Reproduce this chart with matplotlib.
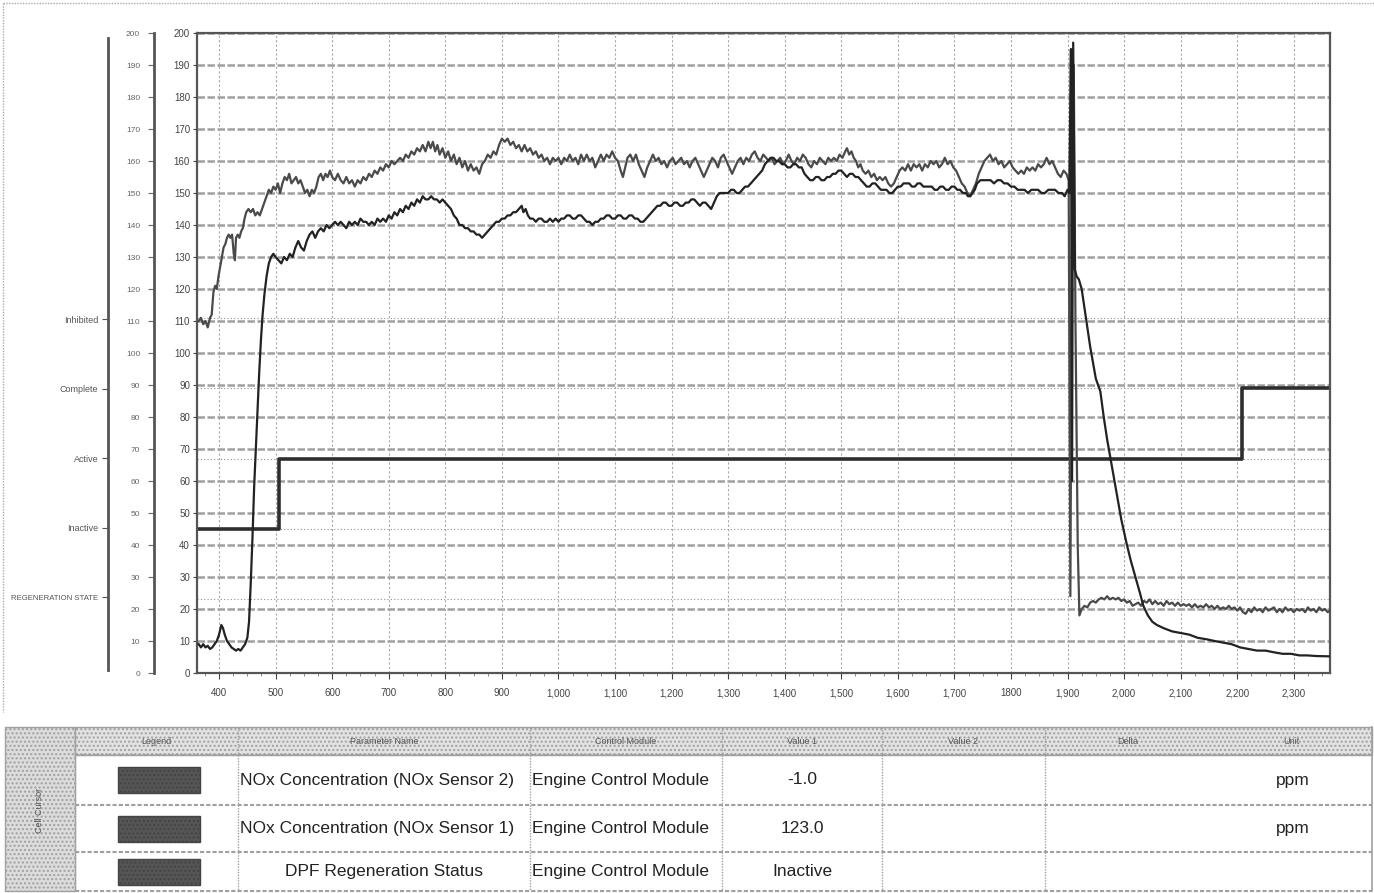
import matplotlib.pyplot as plt
from matplotlib.patches import Rectangle
from matplotlib.ticker import MultipleLocator

plt.rcParams['font.family'] = ['Liberation Sans', 'DejaVu Sans']

# NOx Sensor 2 (upper noisy trace), (time, ppm)
sensor2 = [
    (364, 110), (368, 111), (372, 109), (376, 110), (380, 108), (384, 111), (387, 112), (390, 119),
    (393, 121), (396, 120), (399, 124), (402, 127), (405, 130), (408, 133), (411, 134), (414, 136),
    (417, 137), (420, 136), (423, 137), (426, 131), (428, 129), (430, 136), (433, 137), (436, 136),
    (439, 138), (442, 139), (445, 142), (448, 144), (452, 145), (456, 144), (460, 145), (464, 143),
    (468, 144), (472, 143), (476, 145), (480, 147), (484, 149), (488, 151), (492, 150), (496, 152),
    (500, 151), (504, 153), (508, 150), (512, 153), (516, 155), (520, 154), (524, 156), (528, 153),
    (532, 154), (536, 155), (540, 153), (544, 154), (548, 152), (552, 150), (556, 151), (560, 149),
    (564, 151), (568, 150), (572, 152), (576, 155), (580, 156), (584, 154), (588, 156), (592, 155),
    (596, 157), (600, 155), (605, 154), (610, 156), (615, 154), (620, 153), (625, 155), (630, 153),
    (635, 154), (640, 152), (645, 154), (650, 153), (655, 155), (660, 154), (665, 156), (670, 155),
    (675, 157), (680, 156), (685, 158), (690, 157), (695, 159), (700, 158), (705, 160), (710, 159),
    (715, 160), (720, 161), (725, 160), (730, 162), (735, 161), (740, 163), (745, 162), (750, 164),
    (755, 163), (760, 165), (765, 163), (770, 166), (774, 164), (778, 166), (782, 163), (786, 165),
    (790, 162), (795, 164), (800, 161), (805, 163), (810, 160), (815, 162), (820, 159), (825, 161),
    (830, 158), (835, 160), (840, 157), (845, 159), (850, 157), (855, 158), (860, 156), (865, 159),
    (870, 160), (875, 162), (880, 161), (885, 163), (890, 162), (895, 165), (900, 167), (905, 166),
    (910, 167), (915, 165), (920, 166), (925, 164), (930, 165), (935, 163), (940, 165), (945, 163),
    (950, 164), (955, 162), (960, 163), (965, 161), (970, 162), (975, 160), (980, 161), (985, 159),
    (990, 161), (995, 160), (1000, 161), (1005, 159), (1010, 161), (1015, 160), (1020, 162), (1025, 160),
    (1030, 161), (1035, 159), (1040, 162), (1045, 160), (1050, 162), (1055, 160), (1060, 161), (1065, 158),
    (1070, 160), (1075, 162), (1080, 160), (1085, 162), (1090, 161), (1095, 163), (1100, 161), (1105, 160),
    (1110, 157), (1114, 155), (1118, 158), (1122, 161), (1127, 162), (1132, 160), (1137, 162), (1142, 159),
    (1147, 157), (1152, 155), (1157, 158), (1162, 160), (1167, 162), (1172, 160), (1177, 161), (1182, 159),
    (1187, 160), (1192, 158), (1197, 160), (1202, 161), (1207, 159), (1212, 160), (1217, 161), (1222, 159),
    (1227, 160), (1232, 158), (1237, 160), (1242, 161), (1247, 159), (1252, 157), (1257, 155), (1262, 157),
    (1267, 159), (1272, 161), (1277, 160), (1282, 158), (1287, 161), (1292, 162), (1297, 160), (1302, 158),
    (1307, 156), (1312, 158), (1317, 160), (1322, 161), (1327, 159), (1332, 161), (1337, 160), (1342, 162),
    (1347, 163), (1352, 161), (1357, 160), (1362, 162), (1367, 161), (1372, 160), (1377, 161), (1382, 159),
    (1387, 160), (1392, 161), (1397, 159), (1402, 160), (1407, 162), (1412, 160), (1417, 159), (1422, 161),
    (1427, 160), (1432, 162), (1437, 161), (1442, 159), (1447, 158), (1452, 160), (1457, 159), (1462, 161),
    (1467, 160), (1472, 159), (1477, 161), (1482, 160), (1487, 161), (1492, 160), (1497, 162), (1502, 161),
    (1507, 163), (1510, 164), (1514, 162), (1518, 163), (1522, 161), (1526, 160), (1530, 158), (1534, 159),
    (1538, 157), (1543, 156), (1548, 157), (1553, 155), (1558, 156), (1563, 154), (1568, 155), (1573, 154),
    (1578, 155), (1583, 153), (1588, 152), (1593, 153), (1598, 155), (1603, 157), (1608, 158), (1613, 157),
    (1618, 159), (1623, 157), (1628, 159), (1633, 158), (1638, 159), (1643, 157), (1648, 159), (1653, 158),
    (1658, 160), (1663, 159), (1668, 160), (1673, 158), (1678, 159), (1683, 161), (1688, 159), (1693, 160),
    (1698, 158), (1703, 157), (1708, 155), (1713, 153), (1718, 152), (1723, 150), (1728, 149), (1733, 151),
    (1738, 153), (1743, 156), (1748, 158), (1753, 160), (1758, 161), (1763, 162), (1768, 160), (1773, 161),
    (1778, 159), (1783, 160), (1788, 158), (1793, 159), (1798, 160), (1803, 158), (1808, 157), (1813, 156),
    (1818, 157), (1823, 156), (1828, 158), (1833, 157), (1838, 158), (1843, 157), (1848, 159), (1853, 158),
    (1858, 159), (1863, 161), (1868, 159), (1873, 160), (1878, 158), (1883, 156), (1888, 155), (1893, 157),
    (1898, 156), (1902, 154), (1905, 24), (1908, 150), (1911, 190), (1914, 110), (1918, 40), (1921, 18),
    (1925, 20), (1930, 21), (1935, 20.5), (1940, 22), (1945, 22.5), (1950, 22), (1955, 23), (1960, 23.5),
    (1965, 23), (1970, 24), (1975, 23), (1980, 23.5), (1985, 23), (1990, 23.5), (1995, 22.5), (2000, 23),
    (2005, 22), (2010, 22.5), (2015, 21), (2020, 21.5), (2025, 22), (2030, 21), (2035, 22.5), (2040, 22),
    (2045, 23), (2050, 21.5), (2055, 22.5), (2060, 21.5), (2065, 22), (2070, 21), (2075, 22.5), (2080, 21.5),
    (2085, 22), (2090, 21), (2095, 22), (2100, 21), (2105, 21.5), (2110, 21), (2115, 21.5), (2120, 20.5),
    (2125, 21.5), (2130, 20.5), (2135, 21), (2140, 20.5), (2145, 21.5), (2150, 20.5), (2155, 21), (2160, 20),
    (2165, 21), (2170, 20), (2175, 20.5), (2180, 20), (2185, 21), (2190, 20), (2195, 20.5), (2200, 19.5),
    (2205, 20.5), (2210, 19), (2215, 18.5), (2220, 20), (2225, 19), (2230, 20.5), (2235, 19.5), (2240, 20),
    (2245, 19), (2250, 20.5), (2255, 19.5), (2260, 20), (2265, 20.5), (2270, 19), (2275, 20), (2280, 19),
    (2285, 20.5), (2290, 19.5), (2295, 20), (2300, 19), (2305, 20), (2310, 19.5), (2315, 20), (2320, 19),
    (2325, 20.5), (2330, 19.5), (2335, 20), (2340, 19), (2345, 20.5), (2350, 19.5), (2355, 20), (2360, 19),
    (2364, 19.5),
]

# NOx Sensor 1 (lower trace), (time, ppm)
sensor1 = [
    (364, 9), (368, 8), (372, 9), (376, 8), (380, 8.5), (384, 7.5), (388, 8), (392, 9), (396, 10),
    (400, 12), (404, 15), (407, 14), (410, 12), (414, 10), (418, 9), (422, 8), (426, 7.5), (430, 7),
    (434, 7.5), (438, 7), (442, 8), (446, 9), (450, 11), (453, 16), (456, 28), (459, 42), (462, 58),
    (465, 70), (468, 82), (471, 94), (474, 104), (477, 112), (480, 118), (484, 124), (488, 128),
    (492, 130), (496, 131), (500, 130), (505, 129), (510, 128), (515, 130), (520, 129), (525, 131),
    (530, 130), (535, 133), (540, 135), (545, 133), (550, 132), (555, 135), (560, 137), (565, 138),
    (570, 136), (575, 138), (580, 139), (585, 138), (590, 140), (595, 139), (600, 140), (605, 141),
    (610, 140), (615, 141), (620, 140), (625, 139), (630, 141), (635, 140), (640, 141), (645, 140),
    (650, 142), (655, 141), (660, 141), (665, 140), (670, 141), (675, 140), (680, 142), (685, 141),
    (690, 142), (695, 141), (700, 143), (705, 142), (710, 144), (715, 143), (720, 145), (725, 144),
    (730, 146), (735, 145), (740, 147), (745, 146), (750, 148), (755, 147), (760, 149), (765, 148),
    (770, 148), (775, 149), (780, 148), (785, 148), (790, 147), (795, 148), (800, 147), (805, 146),
    (810, 145), (815, 143), (820, 142), (825, 140), (830, 140), (835, 139), (840, 139), (845, 138),
    (850, 138), (855, 137), (860, 137), (865, 136), (870, 137), (875, 138), (880, 139), (885, 140),
    (890, 141), (895, 141), (900, 142), (905, 142), (910, 143), (915, 143), (920, 144), (925, 144),
    (930, 145), (935, 146), (938, 144), (942, 145), (946, 143), (950, 142), (955, 142), (960, 141),
    (965, 142), (970, 142), (975, 141), (980, 141), (985, 142), (990, 141), (995, 142), (1000, 141),
    (1005, 142), (1010, 142), (1015, 143), (1020, 143), (1025, 142), (1030, 142), (1035, 143),
    (1040, 143), (1045, 142), (1050, 141), (1055, 141), (1060, 140), (1065, 141), (1070, 141),
    (1075, 142), (1080, 142), (1085, 143), (1090, 143), (1095, 142), (1100, 142), (1105, 143),
    (1110, 143), (1115, 142), (1120, 142), (1125, 143), (1130, 143), (1135, 142), (1140, 142),
    (1145, 141), (1150, 141), (1155, 142), (1160, 143), (1165, 144), (1170, 145), (1175, 146),
    (1180, 146), (1185, 147), (1190, 147), (1195, 146), (1200, 146), (1205, 147), (1210, 147),
    (1215, 146), (1220, 146), (1225, 147), (1230, 147), (1235, 148), (1240, 148), (1245, 147),
    (1250, 146), (1255, 147), (1260, 147), (1265, 146), (1270, 145), (1275, 147), (1280, 149),
    (1285, 150), (1290, 150), (1295, 150), (1300, 150), (1305, 151), (1310, 151), (1315, 150),
    (1320, 150), (1325, 151), (1330, 152), (1335, 152), (1340, 153), (1345, 154), (1350, 155),
    (1355, 156), (1360, 157), (1365, 159), (1370, 160), (1375, 161), (1380, 161), (1385, 160),
    (1390, 160), (1395, 159), (1400, 159), (1405, 158), (1410, 158), (1415, 159), (1420, 159),
    (1425, 158), (1430, 158), (1435, 156), (1440, 155), (1445, 154), (1450, 154), (1455, 155),
    (1460, 155), (1465, 154), (1470, 154), (1475, 155), (1480, 155), (1485, 156), (1490, 156),
    (1495, 157), (1500, 157), (1505, 156), (1510, 155), (1515, 156), (1520, 156), (1525, 155),
    (1530, 155), (1535, 154), (1540, 153), (1545, 152), (1550, 152), (1555, 153), (1560, 153),
    (1565, 152), (1570, 151), (1575, 151), (1580, 151), (1585, 150), (1590, 150), (1595, 151),
    (1600, 152), (1605, 152), (1610, 153), (1615, 153), (1620, 153), (1625, 152), (1630, 152),
    (1635, 153), (1640, 153), (1645, 152), (1650, 152), (1655, 152), (1660, 152), (1665, 151),
    (1670, 151), (1675, 152), (1680, 152), (1685, 151), (1690, 151), (1695, 152), (1700, 152),
    (1705, 151), (1710, 151), (1715, 150), (1720, 150), (1724, 149), (1728, 149), (1732, 150),
    (1736, 151), (1740, 153), (1746, 154), (1752, 154), (1758, 154), (1764, 154), (1770, 153),
    (1776, 154), (1782, 154), (1788, 153), (1794, 153), (1800, 152), (1806, 152), (1812, 151),
    (1818, 151), (1824, 151), (1830, 150), (1836, 151), (1842, 151), (1848, 151), (1854, 150),
    (1860, 150), (1866, 151), (1872, 151), (1878, 151), (1884, 150), (1890, 150), (1895, 149),
    (1900, 151), (1903, 150), (1906, 195), (1908, 60), (1910, 197), (1913, 126), (1916, 124),
    (1920, 123), (1925, 120), (1930, 114), (1935, 108), (1940, 102), (1945, 97), (1950, 92),
    (1958, 88), (1964, 80), (1970, 73), (1978, 65), (1987, 56), (1995, 48), (2005, 40), (2012, 35),
    (2020, 30), (2028, 25), (2034, 21), (2042, 18), (2050, 16), (2058, 15), (2070, 14), (2085, 13),
    (2100, 12.5), (2115, 12), (2130, 11), (2147, 10.5), (2160, 10), (2175, 9.5), (2190, 9), (2205, 8),
    (2220, 7.5), (2235, 7), (2250, 7), (2264, 6.5), (2280, 6), (2295, 6), (2310, 5.5), (2324, 5.5),
    (2340, 5.3), (2364, 5.2),
]

# DPF regeneration status (plotted on the state scale)
dpf_t = [361, 506, 2209, 2364]
dpf_v = [45, 67, 89, 89]

state_names = ['REGENERATION STATE', 'Inactive', 'Active', 'Complete', 'Inhibited']
state_pos = [23, 45, 67, 89, 111]

xticks = [400, 500, 600, 700, 800, 900, 1000, 1100, 1200, 1300, 1400, 1500,
          1600, 1700, 1800, 1900, 2000, 2100, 2200, 2300]
xtick_labels = ['400', '500', '600', '700', '800', '900', '1,000', '1,100', '1,200', '1,300',
                '1,400', '1,500', '1,600', '1,700', '1800', '1,900', '2,000', '2,100', '2,200', '2,300']
yticks = list(range(0, 201, 10))

# table contents
col_headers = ['Legend', 'Parameter Name', 'Control Module', 'Value 1', 'Value 2', 'Delta', 'Unit']
param_names = ['NOx Concentration (NOx Sensor 2)', 'NOx Concentration (NOx Sensor 1)', 'DPF Regeneration Status']
modules = ['Engine Control Module', 'Engine Control Module', 'Engine Control Module']
values1 = ['-1.0', '123.0', 'Inactive']
units = ['ppm', 'ppm', '']

W, H = 1374, 893
fig = plt.figure(figsize=(W / 100, H / 100), dpi=100)


def px_box(x0, y0, x1, y1):
    # pixel box (top-left origin) -> figure fraction rect
    return [x0 / W, 1 - y1 / H, (x1 - x0) / W, (y1 - y0) / H]


# background / table layer in pixel coordinates
bg = fig.add_axes([0, 0, 1, 1])
bg.set_xlim(0, W)
bg.set_ylim(H, 0)
bg.axis('off')

# main plot
ax = fig.add_axes(px_box(197, 33, 1330, 673))
ax.set_xlim(361, 2364)
ax.set_ylim(0, 200)
ax.set_axisbelow(True)
for y in yticks:
    ax.axhline(y, color='#a0a0a0', lw=1.8, ls=(0, (3, 1)), zorder=0)
for y in state_pos:
    ax.axhline(y, color='#909090', lw=0.8, ls=(0, (1, 2)), zorder=0)
for x in xticks:
    ax.axvline(x, color='#a8a8a8', lw=0.8, ls=(0, (2, 2)), zorder=0)

s2_t, s2_v = zip(*sensor2)
s1_t, s1_v = zip(*sensor1)
ax.plot(s2_t, s2_v, color='#4a4a4a', lw=1.6, zorder=3)
ax.plot(s1_t, s1_v, color='#222222', lw=1.6, zorder=3)
ax.plot(dpf_t, dpf_v, drawstyle='steps-post', color='#2e2e2e', lw=2.6, zorder=2)

ax.set_xticks(xticks, xtick_labels)
ax.set_yticks(yticks)
ax.xaxis.set_minor_locator(MultipleLocator(25))
ax.tick_params(axis='x', which='major', direction='out', length=4, labelsize=7, pad=7, colors='#444')
ax.tick_params(axis='x', which='minor', direction='out', length=2, colors='#777')
ax.tick_params(axis='y', direction='out', length=3, labelsize=7, pad=2, colors='#444')
for sp in ax.spines.values():
    sp.set_color('#555')
    sp.set_linewidth(1.6)

# second (middle) scale
ax_mid = fig.add_axes(px_box(154, 33, 155, 673))
ax_mid.set_ylim(0, 200)
ax_mid.set_yticks(yticks)
ax_mid.set_xticks([])
for name, sp in ax_mid.spines.items():
    sp.set_visible(name == 'left')
ax_mid.spines['left'].set_color('#555')
ax_mid.spines['left'].set_linewidth(2)
ax_mid.tick_params(axis='y', direction='out', length=4, labelsize=6, pad=6, colors='#666')
ax_mid.patch.set_alpha(0)

# state scale (left)
ax_st = fig.add_axes(px_box(108, 38, 109, 670))
ax_st.set_ylim(0, 200)
ax_st.set_yticks(state_pos, state_names)
ax_st.set_xticks([])
for name, sp in ax_st.spines.items():
    sp.set_visible(name == 'left')
ax_st.spines['left'].set_color('#555')
ax_st.spines['left'].set_linewidth(2)
ax_st.tick_params(axis='y', direction='out', length=4, labelsize=6.5, pad=3, colors='#555')
for lab in ax_st.get_yticklabels():
    if lab.get_text() == 'REGENERATION STATE':
        lab.set_fontsize(5.6)
ax_st.patch.set_alpha(0)

# outer panel border
bg.plot([3, W], [3, 3], color='#aaaaaa', lw=1, ls=(0, (1, 1)))
bg.plot([3, 3], [3, 712], color='#aaaaaa', lw=1, ls=(0, (1, 1)))

# table
grid_c = '#a0a0a0'
bg.add_patch(Rectangle((5, 727), 70, 164, facecolor='#dcdcdc', edgecolor=grid_c, lw=1, hatch='....'))
bg.text(40, 810, 'Cell Cursor', rotation=90, ha='center', va='center', fontsize=6.5, color='#555')

col_x = [75, 238, 530, 722, 882, 1045, 1210, 1372]
row_y = [727, 755, 805, 852, 891]
bg.add_patch(Rectangle((75, 727), 1297, 28, facecolor='#e2e2e2', edgecolor=grid_c, lw=1, hatch='....'))
for i, h in enumerate(col_headers):
    cx = (col_x[i] + col_x[i + 1]) / 2
    bg.text(cx, 741, h, ha='center', va='center', fontsize=6.5, color='#555')
for x in col_x[:-2]:
    bg.plot([x, x], [727, 891], color=grid_c, lw=1, ls=(0, (1, 1)))
bg.plot([1372, 1372], [727, 891], color=grid_c, lw=1.2)
for y in row_y[1:]:
    bg.plot([75, 1372], [y, y], color=grid_c, lw=1.5, ls=(0, (2, 1)))

for r in range(3):
    y0, y1 = row_y[r + 1], row_y[r + 2]
    cy = (y0 + y1) / 2
    bg.add_patch(Rectangle((118, cy - 13), 82, 26, facecolor='#555555', edgecolor='#444', lw=1, hatch='....'))
    if r < 2:
        bg.text(240, cy, param_names[r], ha='left', va='center', fontsize=12.5, color='#222',
                clip_on=True)
    else:
        bg.text(384, cy, param_names[r], ha='center', va='center', fontsize=12.5, color='#222')
    bg.text(532, cy, modules[r], ha='left', va='center', fontsize=12.5, color='#222')
    bg.text(802, cy, values1[r], ha='center', va='center', fontsize=12.5, color='#222')
    bg.text(1293, cy, units[r], ha='center', va='center', fontsize=12.5, color='#222')

fig.savefig('out.png', dpi=100)
